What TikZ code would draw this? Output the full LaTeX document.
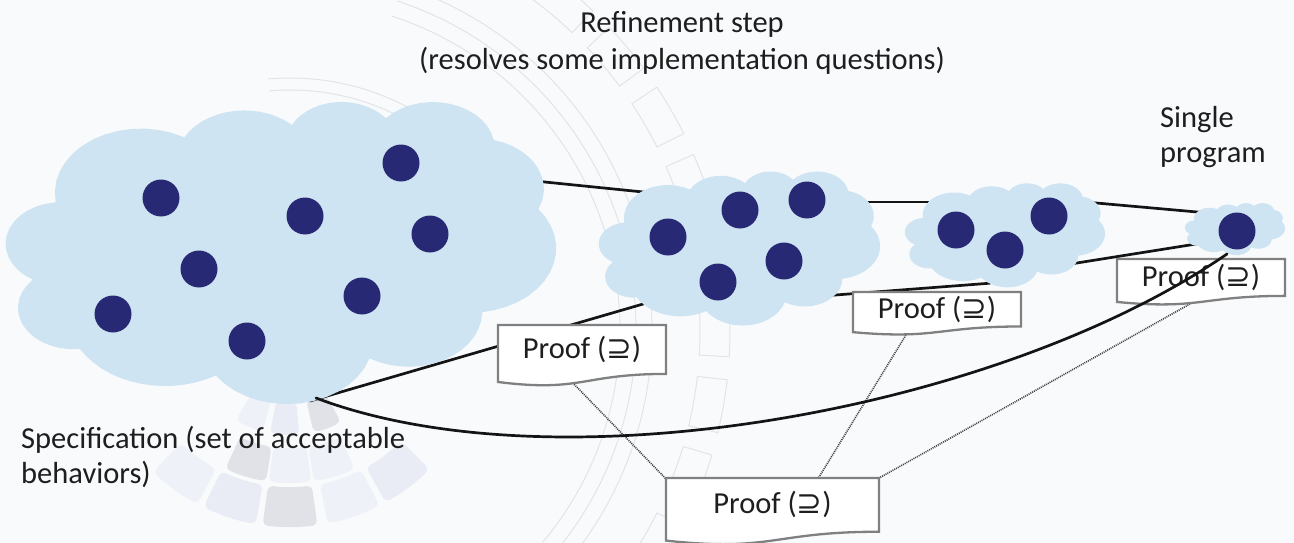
\documentclass[tikz,border=0pt]{standalone}
\usepackage{fontspec}
\setmainfont{Carlito}
\newfontfamily\symfnt{DejaVu Sans}
\usetikzlibrary{calc}
\definecolor{bgcol}{RGB}{248,250,252}
\definecolor{cloudblue}{RGB}{207,228,242}
\definecolor{dotblue}{RGB}{40,41,116}
\definecolor{docgray}{RGB}{128,128,128}
\definecolor{txtcol}{RGB}{30,30,30}
\definecolor{tileA}{RGB}{224,227,240}
\definecolor{tileB}{RGB}{210,210,217}
\definecolor{tileC}{RGB}{232,236,246}
\definecolor{decoline}{RGB}{226,228,232}

% PowerPoint cloud outline, unit square, y downwards
\gdef\cloudpts{(0.09028,0.33264)}
\gdef\ccx{0.09028}\gdef\ccy{0.33264}
\newcommand\cloudseg[4]{%
  \pgfmathsetmacro\cA{atan2(#1*sin(#3),#2*cos(#3))}%
  \pgfmathsetmacro\cB{atan2(#1*sin(#3+#4),#2*cos(#3+#4))}%
  \pgfmathsetmacro\cD{mod(\cB-\cA+720,360)}%
  \pgfmathsetmacro\cOx{\ccx-#1*cos(\cA)}%
  \pgfmathsetmacro\cOy{\ccy-#2*sin(\cA)}%
  \foreach \k in {1,...,14}{%
    \pgfmathsetmacro\cT{\cA+\cD*\k/14}%
    \pgfmathsetmacro\cPx{\cOx+#1*cos(\cT)}%
    \pgfmathsetmacro\cPy{\cOy+#2*sin(\cT)}%
    \xdef\cloudpts{\cloudpts -- (\cPx,\cPy)}%
    \xdef\ccx{\cPx}\xdef\ccy{\cPy}%
  }%
}
\cloudseg{0.15632}{0.21273}{-190.4875}{123.7805}
\cloudseg{0.12345}{0.16822}{-144.1024}{89.9452}
\cloudseg{0.10104}{0.13762}{-145.8079}{99.7230}
\cloudseg{0.11243}{0.15266}{-130.9861}{117.2417}
\cloudseg{0.12345}{0.16836}{-78.7089}{109.0269}
\cloudseg{0.15683}{0.21343}{-46.2673}{130.2690}
\cloudseg{0.13391}{0.18211}{0.6250}{114.0333}
\cloudseg{0.15630}{0.21331}{22.4516}{115.1726}
\cloudseg{0.17870}{0.24405}{66.2426}{75.7110}
\cloudseg{0.10093}{0.13699}{-274.9421}{146.7356}
\cloudseg{0.10058}{0.13762}{-246.8285}{152.5189}

\newcommand\drawcloud[5]{% name, left, top, W, H
  \begin{scope}[shift={(#2,#3)}, x=#4pt, y=-#5pt]
    \edef\tmpcloud{\noexpand\fill[cloudblue] \cloudpts -- cycle;}\tmpcloud
    \node[inner sep=0pt, minimum width=#4pt, minimum height=#5pt] (#1) at (0.5,0.5) {};
  \end{scope}}

\newcommand\proofdoc[5]{% name, left, top, W, H
  \begin{scope}[shift={(#2,#3)}, x=#4pt, y=-#5pt]
    \filldraw[docbox] (0,0) -- (1,0) -- (1,0.802) .. controls (0.5,0.802) and (0.5,1.1075) .. (0,0.934) -- cycle;
    \node[prooftext] (#1) at (0.5,0.401) {Proof ({\symfnt ⊇})};
  \end{scope}}

\begin{document}
\begin{tikzpicture}[x=1pt,y=-1pt,
  conn/.style={line width=2.7pt, black!92, line cap=round},
  dotline/.style={line width=1.6pt, black!75, dash pattern=on 1pt off 1pt},
  ball/.style={circle, fill=dotblue, inner sep=0pt, minimum size=37pt},
  docbox/.style={fill=white, draw=docgray, line width=2.3pt},
  prooftext/.style={font=\fontsize{30.5}{37}\selectfont, text=txtcol, inner sep=0pt},
  txtlabel/.style={font=\fontsize{30.5}{37}\selectfont, text=txtcol, inner sep=0pt},
  decoarc/.style={draw=decoline, line width=1pt},
]
\useasboundingbox (0,0) rectangle (1294,543);
\fill[bgcol] (0,0) rectangle (1294,543);

% faint background decoration
\begin{scope}
  \clip (0,0) rectangle (1294,543);
  \coordinate (bgc) at (290,330);
  \foreach \r in {330,346,362} {
    \draw[decoarc] ($(bgc)+(72:\r pt)$) arc[start angle=72, end angle=-40, radius=\r pt];
  }
  \foreach \r in {240,252} {
    \draw[decoarc] ($(bgc)+(95:\r pt)$) arc[start angle=95, end angle=20, radius=\r pt];
  }
  \foreach \a in {-30,-20,...,50} {
    \draw[decoarc] ($(bgc)+(\a-3.5:410pt)$) arc[start angle=\a-3.5, end angle=\a+3.5, radius=410pt]
      -- ($(bgc)+(\a+3.5:440pt)$) arc[start angle=\a+3.5, end angle=\a-3.5, radius=440pt] -- cycle;
  }
  \begin{scope}[opacity=0.6]
  \foreach \a/\c/\ra/\rb in {-53/tileA/157/197, -71/tileC/157/197, -90/tileB/157/197, -108/tileA/157/197, -126/tileC/157/197,
                             -73/tileC/118/153, -90/tileC/118/153, -107/tileB/118/153,
                             -69/tileB/72/105, -93/tileA/72/105, -113/tileC/72/105} {
    \fill[\c, rounded corners=5pt] ($(bgc)+(\a-8:\ra pt)$) arc[start angle=\a-8, end angle=\a+8, radius=\ra pt]
      -- ($(bgc)+(\a+8:\rb pt)$) arc[start angle=\a+8, end angle=\a-8, radius=\rb pt] -- cycle;
  }
  \end{scope}
\end{scope}

% connector end points
\coordinate (l1a) at (530,180.5);  \coordinate (l1b) at (655,193.2);
\coordinate (l2a) at (860,202);    \coordinate (l2b) at (940,202);
\coordinate (l3a) at (1085,202);   \coordinate (l3b) at (1205,212.7);
\coordinate (l4a) at (1068,264.4); \coordinate (l4b) at (1198,243.7);
\coordinate (l5a) at (825,295.8);  \coordinate (l5b) at (990,283.2);
\coordinate (l6a) at (310,401);    \coordinate (l6b) at (652,301.4);
\coordinate (d1a) at (570,380);    \coordinate (d1b) at (669,482);
\coordinate (d2a) at (909,330);    \coordinate (d2b) at (816,482);
\coordinate (d3a) at (1197,300);   \coordinate (d3b) at (872,482);
\coordinate (ca) at (316,398);     \coordinate (cb) at (1227,254);

% straight connectors (behind clouds and documents)
\draw[conn] (l1a) -- (l1b);
\draw[conn] (l2a) -- (l2b);
\draw[conn] (l3a) -- (l3b);
\draw[conn] (l4a) -- (l4b);
\draw[conn] (l5a) -- (l5b);
\draw[conn] (l6a) -- (l6b);
\draw[dotline] (d1a) -- (d1b);
\draw[dotline] (d2a) -- (d2b);
\draw[dotline] (d3a) -- (d3b);

% clouds
\drawcloud{spec}{6}{101}{550}{302}
\drawcloud{stepA}{599}{171}{281}{154}
\drawcloud{stepB}{905}{183}{200}{104}
\drawcloud{prog}{1185}{203}{100}{52}

% behaviours
\node[ball] (s1) at (161,198) {};
\node[ball] (s2) at (305,216) {};
\node[ball] (s3) at (401,163) {};
\node[ball] (s4) at (430,234) {};
\node[ball] (s5) at (199,269) {};
\node[ball] (s6) at (113,314) {};
\node[ball] (s7) at (362,296) {};
\node[ball] (s8) at (247,341) {};
\node[ball] (a1) at (668,237) {};
\node[ball] (a2) at (740,210) {};
\node[ball] (a3) at (807,200) {};
\node[ball] (a4) at (718,282) {};
\node[ball] (a5) at (784,261) {};
\node[ball] (b1) at (956,230) {};
\node[ball] (b2) at (1005,250) {};
\node[ball] (b3) at (1049,216) {};
\node[ball] (p1) at (1237,231) {};

% proof documents
\proofdoc{proofA}{498}{325}{168}{61}
\proofdoc{proofB}{853}{292}{168}{43}
\proofdoc{proofC}{1117}{259}{168}{46}
\proofdoc{proofD}{666}{478}{213}{67}

% long curved connector (on top)
\draw[conn] (ca) .. controls (560,490) and (1000,410) .. (cb);

% labels
\node[txtlabel, anchor=base] (title1) at (682,33) {Refinement step};
\node[txtlabel, anchor=base] (title2) at (682,70) {(resolves some implementation questions)};
\node[txtlabel, anchor=base west] (single1) at (1160,127) {Single};
\node[txtlabel, anchor=base west] (single2) at (1160,162) {program};
\node[txtlabel, anchor=base west] (spec1) at (21,448) {Specification (set of acceptable};
\node[txtlabel, anchor=base west] (spec2) at (21,483) {behaviors)};
\end{tikzpicture}
\end{document}
